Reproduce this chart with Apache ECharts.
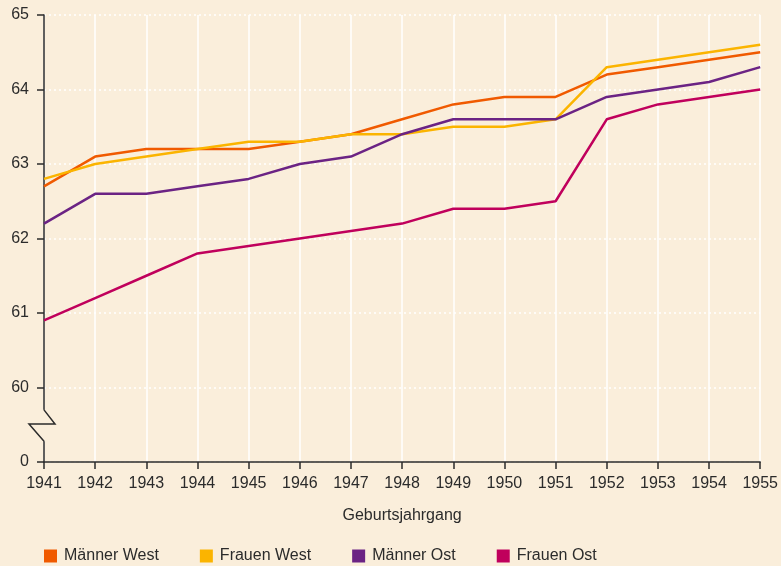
<!DOCTYPE html>
<html>
<head>
<meta charset="utf-8">
<script src="https://cdn.jsdelivr.net/npm/echarts@6/dist/echarts.min.js"></script>
<style>
  html, body { margin: 0; padding: 0; background: #faeedb; }
  #chart { width: 781px; height: 566px; }
</style>
</head>
<body>
<div id="chart"></div>
<script>
// Geburtsjahrgang
const years = ['1941', '1942', '1943', '1944', '1945', '1946', '1947', '1948',
  '1949', '1950', '1951', '1952', '1953', '1954', '1955']

const maennerWest = [62.7, 63.1, 63.2, 63.2, 63.2, 63.3, 63.4, 63.6, 63.8, 63.9, 63.9, 64.2, 64.3, 64.4, 64.5]
const frauenWest = [62.8, 63.0, 63.1, 63.2, 63.3, 63.3, 63.4, 63.4, 63.5, 63.5, 63.6, 64.3, 64.4, 64.5, 64.6]
const maennerOst = [62.2, 62.6, 62.6, 62.7, 62.8, 63.0, 63.1, 63.4, 63.6, 63.6, 63.6, 63.9, 64.0, 64.1, 64.3]
const frauenOst = [60.9, 61.2, 61.5, 61.8, 61.9, 62.0, 62.1, 62.2, 62.4, 62.4, 62.5, 63.6, 63.8, 63.9, 64.0]

// y axis is broken: the lowest tick stands for 0
const yMin = 59
const yMax = 65

const bg = '#faeedb'
const ink = '#2b2b2b'
const font = 'Liberation Sans, Arial, sans-serif'

const chart = echarts.init(document.getElementById('chart'))

function line(name, data, color) {
  return {
    name: name,
    type: 'line',
    data: data,
    symbol: 'none',
    lineStyle: { color: color, width: 2.5 },
    itemStyle: { color: color },
    animation: false
  }
}

chart.setOption({
  backgroundColor: bg,
  textStyle: { fontFamily: font },
  grid: { left: 44, right: 20, top: 15, bottom: 104 },
  legend: {
    left: 44,
    top: 548,
    padding: 0,
    icon: 'rect',
    itemWidth: 13,
    itemHeight: 13,
    itemGap: 41,
    textStyle: { fontSize: 16, color: ink, fontFamily: font, padding: [0, 0, 0, 2] },
    data: ['Männer West', 'Frauen West', 'Männer Ost', 'Frauen Ost']
  },
  xAxis: {
    type: 'category',
    data: years,
    boundaryGap: false,
    name: 'Geburtsjahrgang',
    nameLocation: 'middle',
    nameGap: 46,
    nameTextStyle: { fontSize: 16, color: ink, fontFamily: font },
    axisLine: { lineStyle: { color: ink, width: 1.5 } },
    axisTick: { length: 7, lineStyle: { color: ink, width: 1.5 }, alignWithLabel: true },
    axisLabel: { fontSize: 16, color: ink, margin: 14, fontFamily: font },
    splitLine: { show: true, lineStyle: { color: '#ffffff', width: 1.5 } }
  },
  yAxis: {
    type: 'value',
    min: yMin,
    max: yMax,
    interval: 1,
    axisLine: { show: true, lineStyle: { color: ink, width: 1.5 } },
    axisTick: { show: true, length: 7, lineStyle: { color: ink, width: 1.5 } },
    axisLabel: {
      fontSize: 16,
      color: ink,
      margin: 15,
      fontFamily: font,
      formatter: function (v) { return v === yMin ? '0' : String(v) }
    },
    splitLine: { show: true, lineStyle: { color: '#ffffff', width: 1.5, type: [2, 3] } }
  },
  series: [
    line('Männer West', maennerWest, '#f05a00'),
    line('Frauen West', frauenWest, '#fbb400'),
    line('Männer Ost', maennerOst, '#6b2384'),
    line('Frauen Ost', frauenOst, '#c0005c')
  ]
})

// axis break mark on the y axis
const ax = chart.convertToPixel({ xAxisIndex: 0 }, 0)
const yTop = chart.convertToPixel({ yAxisIndex: 0 }, 59.7)
const yMid = chart.convertToPixel({ yAxisIndex: 0 }, 59.51)
const yBot = chart.convertToPixel({ yAxisIndex: 0 }, 59.28)

chart.setOption({
  graphic: [
    {
      type: 'rect',
      z: 100,
      shape: { x: ax - 3, y: yTop, width: 6, height: yBot - yTop },
      style: { fill: bg }
    },
    {
      type: 'polyline',
      z: 101,
      shape: { points: [[ax, yTop], [ax + 11, yMid], [ax - 15, yMid], [ax, yBot]] },
      style: { stroke: ink, lineWidth: 1.5, fill: null }
    }
  ]
})
</script>
</body>
</html>
